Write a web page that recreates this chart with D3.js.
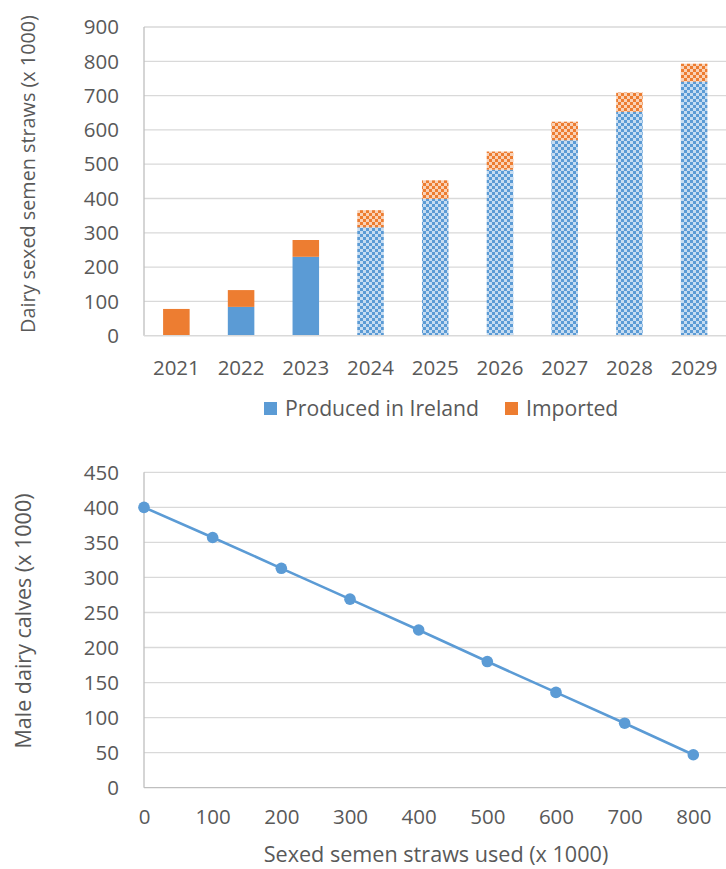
<!DOCTYPE html>
<html>
<head>
<meta charset="utf-8">
<script src="https://cdn.jsdelivr.net/npm/d3@7"></script>
<style>
  html, body { margin: 0; padding: 0; background: #fff; }
  svg { display: block; }
  text { font-family: "Open Sans", Lato, sans-serif; fill: #595959; }
</style>
</head>
<body>
<svg id="chart" width="726" height="869"></svg>
<script>
// ---- Data: top chart ----
const years = ["2021", "2022", "2023", "2024", "2025", "2026", "2027", "2028", "2029"];
const producedInIreland = [0, 84, 230, 316, 399, 484, 570, 653, 741];
const imported = [78, 49, 49, 50, 54, 53, 54, 56, 52];
const projected = [false, false, false, true, true, true, true, true, true];
const topYTicks = [0, 100, 200, 300, 400, 500, 600, 700, 800, 900];
const seriesNames = ["Produced in Ireland", "Imported"];

// ---- Data: bottom chart ----
const strawsUsed = [0, 100, 200, 300, 400, 500, 600, 700, 800];
const maleCalves = [400, 357, 313, 269, 225, 180, 136, 92, 47];
const bottomYTicks = [0, 50, 100, 150, 200, 250, 300, 350, 400, 450];
const bottomXTicks = [0, 100, 200, 300, 400, 500, 600, 700, 800];

const BLUE = "#5B9BD5", ORANGE = "#ED7D31", GRID = "#D9D9D9", AXIS = "#BFBFBF";
const FONT = "Open Sans";
const TICK_FS = 20.5;

const svg = d3.select("#chart");
const defs = svg.append("defs");

function makePattern(id, color) {
  const p = defs.append("pattern").attr("id", id)
    .attr("patternUnits", "userSpaceOnUse").attr("width", 6).attr("height", 6);
  p.append("rect").attr("width", 6).attr("height", 6).attr("fill", "#fff");
  p.append("rect").attr("x", 0).attr("y", 0).attr("width", 3).attr("height", 3).attr("fill", color);
  p.append("rect").attr("x", 3).attr("y", 3).attr("width", 3).attr("height", 3).attr("fill", color);
  p.append("rect").attr("x", 3).attr("y", 0).attr("width", 3).attr("height", 3).attr("fill", color).attr("opacity", 0.35);
  p.append("rect").attr("x", 0).attr("y", 3).attr("width", 3).attr("height", 3).attr("fill", color).attr("opacity", 0.35);
}
makePattern("patBlue", BLUE);
makePattern("patOrange", ORANGE);

function styleTicks(g) {
  g.select(".domain").remove();
  g.selectAll("text").attr("font-size", TICK_FS).style("font-family", FONT).attr("fill", "#595959");
}

// ================= TOP CHART =================
const topBox = { left: 144, right: 726.5, top: 27, bottom: 335.7 };
const x1 = d3.scaleBand().domain(years).range([topBox.left, topBox.right])
  .paddingInner(0.59).paddingOuter(0.295);
const y1 = d3.scaleLinear().domain([0, 900]).range([topBox.bottom, topBox.top]);

const g1 = svg.append("g");
g1.append("g").selectAll("line").data(topYTicks.filter(d => d > 0)).join("line")
  .attr("x1", topBox.left).attr("x2", topBox.right)
  .attr("y1", d => y1(d)).attr("y2", d => y1(d))
  .attr("stroke", GRID).attr("stroke-width", 1.3);

const yAxis1 = d3.axisLeft(y1).tickValues(topYTicks).tickSize(0).tickPadding(0);
g1.append("g").attr("transform", `translate(119,0)`).call(yAxis1)
  .call(styleTicks)
  .call(g => g.selectAll("text").attr("dy", "0.33em"));

const rows = years.map((y, i) => ({ year: y, produced: producedInIreland[i], imported: imported[i], proj: projected[i] }));
const bars = g1.append("g");
bars.selectAll("rect.prod").data(rows).join("rect").attr("class", "prod")
  .attr("x", d => x1(d.year)).attr("width", x1.bandwidth())
  .attr("y", d => y1(d.produced)).attr("height", d => y1(0) - y1(d.produced))
  .attr("fill", d => d.proj ? "url(#patBlue)" : BLUE);
bars.selectAll("rect.imp").data(rows).join("rect").attr("class", "imp")
  .attr("x", d => x1(d.year)).attr("width", x1.bandwidth())
  .attr("y", d => y1(d.produced + d.imported)).attr("height", d => y1(d.produced) - y1(d.produced + d.imported))
  .attr("fill", d => d.proj ? "url(#patOrange)" : ORANGE);

g1.append("line").attr("x1", topBox.left).attr("x2", topBox.left).attr("y1", topBox.top).attr("y2", topBox.bottom)
  .attr("stroke", AXIS).attr("stroke-width", 1.3);
g1.append("line").attr("x1", topBox.left).attr("x2", topBox.right).attr("y1", topBox.bottom).attr("y2", topBox.bottom)
  .attr("stroke", GRID).attr("stroke-width", 1.5);

const xAxis1 = d3.axisBottom(x1).tickSize(0).tickPadding(0);
g1.append("g").attr("transform", `translate(0,375)`).call(xAxis1)
  .call(styleTicks)
  .call(g => g.selectAll("text").attr("dy", 0));

g1.append("text").attr("transform", `translate(35,174) rotate(-90)`)
  .attr("text-anchor", "middle").attr("font-size", 19.8).text("Dairy sexed semen straws (x 1000)");

const legend = g1.append("g");
const legendX = [264, 505];
seriesNames.forEach((name, i) => {
  legend.append("rect").attr("x", legendX[i]).attr("y", 402).attr("width", 13).attr("height", 13)
    .attr("fill", i === 0 ? BLUE : ORANGE);
  legend.append("text").attr("x", legendX[i] + 21).attr("y", 415.5).attr("font-size", 21.2).text(name);
});

// ================= BOTTOM CHART =================
const botBox = { left: 144, right: 726, top: 472.3, bottom: 787.7 };
const x2 = d3.scaleLinear().domain([0, 800]).range([144, 693.3]);
const y2 = d3.scaleLinear().domain([0, 450]).range([botBox.bottom, botBox.top]);
const g2 = svg.append("g");

g2.append("g").selectAll("line").data(bottomYTicks.filter(d => d > 0)).join("line")
  .attr("x1", botBox.left).attr("x2", botBox.right)
  .attr("y1", d => y2(d)).attr("y2", d => y2(d))
  .attr("stroke", GRID).attr("stroke-width", 1.3);

g2.append("line").attr("x1", botBox.left).attr("x2", botBox.left).attr("y1", botBox.top).attr("y2", botBox.bottom)
  .attr("stroke", AXIS).attr("stroke-width", 1.3);
g2.append("line").attr("x1", botBox.left).attr("x2", botBox.right).attr("y1", botBox.bottom).attr("y2", botBox.bottom)
  .attr("stroke", AXIS).attr("stroke-width", 1.3);

const yAxis2 = d3.axisLeft(y2).tickValues(bottomYTicks).tickSize(0).tickPadding(0);
g2.append("g").attr("transform", `translate(119,0)`).call(yAxis2)
  .call(styleTicks)
  .call(g => g.selectAll("text").attr("dy", "0.33em"));

const xAxis2 = d3.axisBottom(x2).tickValues(bottomXTicks).tickSize(0).tickPadding(0);
g2.append("g").attr("transform", `translate(0,823.5)`).call(xAxis2)
  .call(styleTicks)
  .call(g => g.selectAll("text").attr("dy", 0));

const pts = strawsUsed.map((s, i) => ({ x: s, y: maleCalves[i] }));
g2.append("path").datum(pts)
  .attr("d", d3.line().x(d => x2(d.x)).y(d => y2(d.y)))
  .attr("fill", "none").attr("stroke", BLUE).attr("stroke-width", 2.6);
g2.selectAll("circle").data(pts).join("circle")
  .attr("cx", d => x2(d.x)).attr("cy", d => y2(d.y)).attr("r", 5.8).attr("fill", BLUE);

g2.append("text").attr("transform", `translate(31,621) rotate(-90)`)
  .attr("text-anchor", "middle").attr("font-size", 21.5).text("Male dairy calves (x 1000)");
g2.append("text").attr("x", 436).attr("y", 862).attr("text-anchor", "middle")
  .attr("font-size", 21.6).text("Sexed semen straws used (x 1000)");
</script>
</body>
</html>
